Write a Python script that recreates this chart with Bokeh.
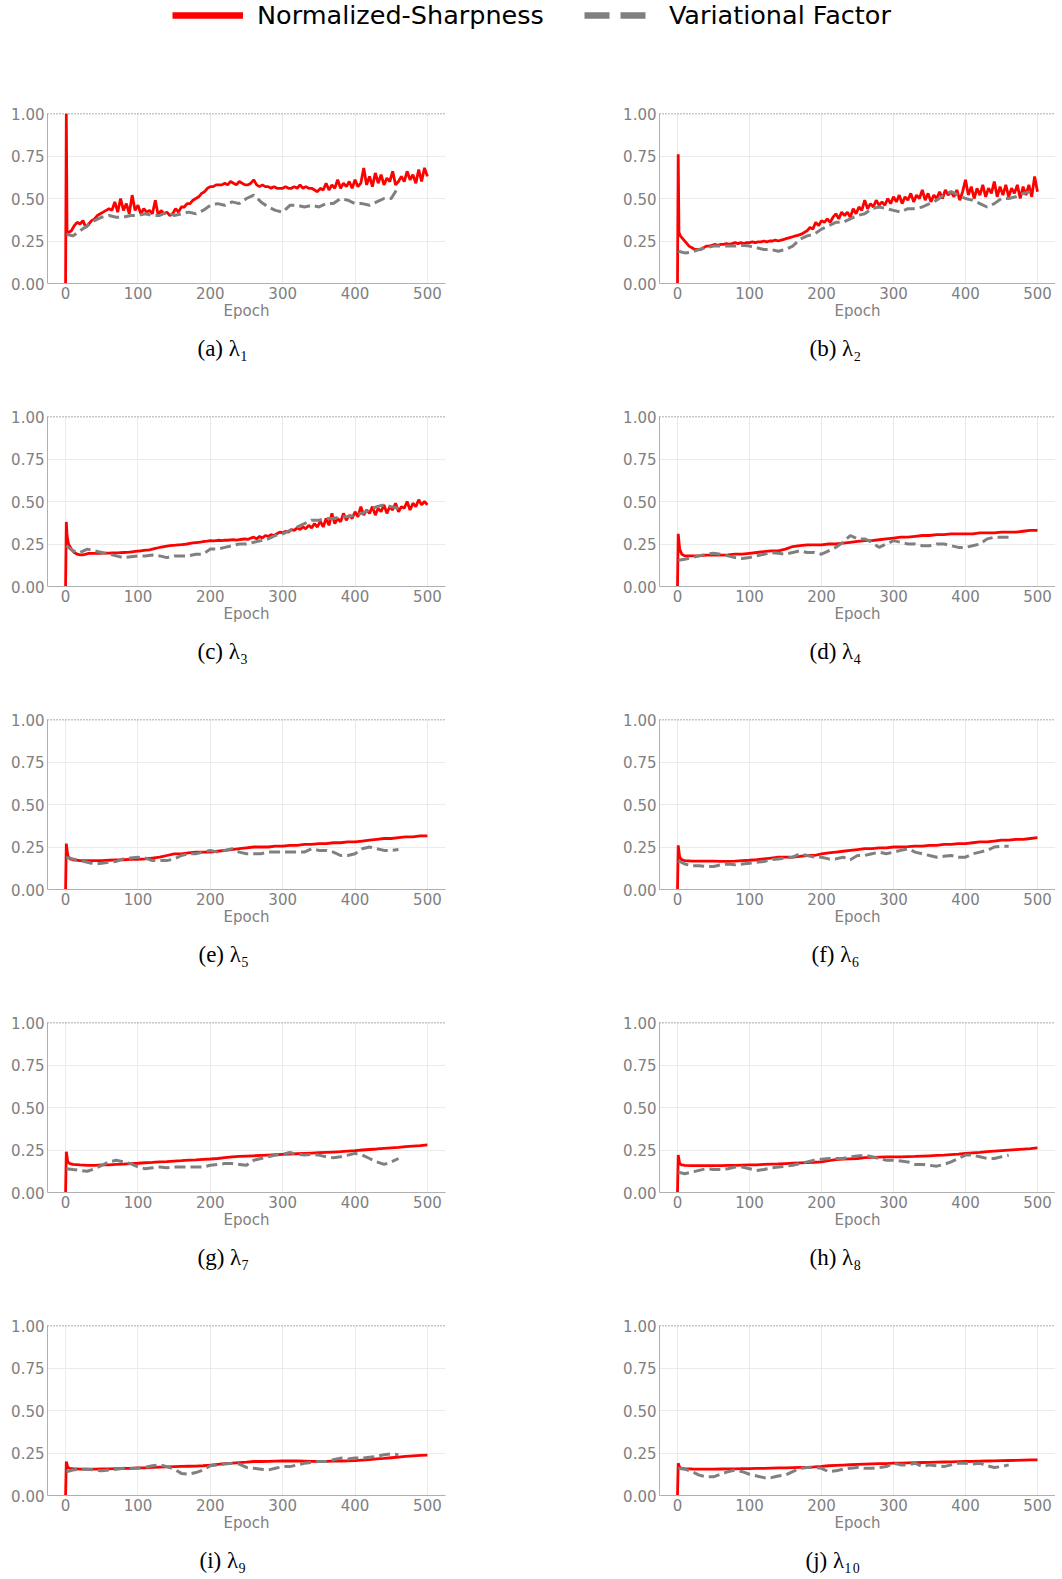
from bokeh.plotting import figure
from bokeh.layouts import column, row
from bokeh.models import (Range1d, FixedTicker, NumeralTickFormatter, Span, Title,
                          Legend, LegendItem, GlobalInlineStyleSheet)
from bokeh.embed import file_html
from bokeh.resources import INLINE

# ---------------- data ----------------
EPOCH_TICKS = [0, 100, 200, 300, 400, 500]
VALUE_TICKS = [0.0, 0.25, 0.5, 0.75, 1.0]

NOISY_EPOCHS = [0, 1, 2] + list(range(4, 501, 4))          # 128 epochs
SMOOTH_EPOCHS = [0, 1, 3, 6] + list(range(10, 501, 10))     # 54 epochs
GRAY_EPOCHS = [1] + list(range(10, 461, 10))                # 47 epochs
GRAY_EPOCHS_LONG = [1] + list(range(10, 491, 10))           # 50 epochs

CAPTIONS = ["(a) λ₁", "(b) λ₂", "(c) λ₃", "(d) λ₄", "(e) λ₅",
            "(f) λ₆", "(g) λ₇", "(h) λ₈", "(i) λ₉", "(j) λ₁₀"]
SERIES_NAMES = ["Normalized-Sharpness", "Variational Factor"]

red_a = [0.00, 1.00, 0.30,
         0.30, 0.31, 0.34, 0.36, 0.35, 0.37, 0.33, 0.35, 0.37, 0.38,
         0.40, 0.41, 0.42, 0.43, 0.44, 0.43, 0.48, 0.42, 0.50, 0.43,
         0.47, 0.41, 0.52, 0.43, 0.46, 0.41, 0.44, 0.42, 0.43, 0.41,
         0.49, 0.40, 0.43, 0.41, 0.42, 0.40, 0.41, 0.44, 0.42, 0.45,
         0.45, 0.47, 0.47, 0.49, 0.50, 0.51, 0.53, 0.54, 0.56, 0.57,
         0.57, 0.58, 0.58, 0.58, 0.59, 0.58, 0.60, 0.59, 0.58, 0.60,
         0.59, 0.58, 0.58, 0.59, 0.61, 0.58, 0.57, 0.58, 0.57, 0.57,
         0.56, 0.57, 0.56, 0.56, 0.56, 0.57, 0.56, 0.56, 0.57, 0.56,
         0.58, 0.56, 0.57, 0.56, 0.56, 0.55, 0.54, 0.56, 0.55, 0.59,
         0.55, 0.58, 0.56, 0.61, 0.56, 0.59, 0.57, 0.60, 0.56, 0.61,
         0.57, 0.59, 0.68, 0.58, 0.63, 0.57, 0.65, 0.59, 0.64, 0.58,
         0.62, 0.60, 0.66, 0.58, 0.60, 0.63, 0.60, 0.66, 0.61, 0.64,
         0.59, 0.67, 0.60, 0.68, 0.63]
gray_a = [0.29, 0.28, 0.31, 0.34, 0.37, 0.39, 0.40, 0.39, 0.39, 0.40,
          0.40, 0.41, 0.40, 0.40, 0.42, 0.40, 0.41, 0.42, 0.41, 0.43,
          0.46, 0.47, 0.46, 0.48, 0.47, 0.50, 0.52, 0.48, 0.45, 0.43,
          0.42, 0.46, 0.46, 0.45, 0.46, 0.45, 0.47, 0.47, 0.50, 0.49,
          0.47, 0.47, 0.46, 0.48, 0.50, 0.50, 0.57]

red_b = [0.00, 0.76, 0.30,
         0.28, 0.26, 0.24, 0.22, 0.21, 0.20, 0.20, 0.20, 0.21, 0.22,
         0.22, 0.225, 0.23, 0.225, 0.23, 0.23, 0.235, 0.23, 0.235, 0.24,
         0.235, 0.24, 0.235, 0.24, 0.24, 0.245, 0.24, 0.245, 0.245, 0.25,
         0.245, 0.25, 0.25, 0.255, 0.25, 0.255, 0.26, 0.265, 0.27, 0.275,
         0.28, 0.285, 0.29, 0.30, 0.31, 0.33, 0.32, 0.36, 0.34, 0.37,
         0.36, 0.38, 0.36, 0.39, 0.41, 0.38, 0.42, 0.40, 0.42, 0.39,
         0.44, 0.41, 0.45, 0.43, 0.49, 0.44, 0.47, 0.45, 0.49, 0.46,
         0.48, 0.46, 0.50, 0.47, 0.51, 0.48, 0.52, 0.47, 0.51, 0.49,
         0.53, 0.48, 0.52, 0.50, 0.55, 0.49, 0.53, 0.48, 0.52, 0.50,
         0.54, 0.50, 0.55, 0.52, 0.54, 0.51, 0.55, 0.49, 0.54, 0.61,
         0.52, 0.57, 0.50, 0.56, 0.52, 0.58, 0.51, 0.56, 0.53, 0.60,
         0.51, 0.57, 0.52, 0.58, 0.51, 0.56, 0.53, 0.58, 0.50, 0.57,
         0.52, 0.58, 0.51, 0.63, 0.54]
gray_b = [0.19, 0.18, 0.185, 0.20, 0.21, 0.22, 0.22, 0.22, 0.22, 0.225,
          0.22, 0.21, 0.20, 0.20, 0.19, 0.20, 0.22, 0.26, 0.28, 0.29,
          0.32, 0.34, 0.36, 0.36, 0.38, 0.40, 0.41, 0.44, 0.45, 0.44,
          0.43, 0.42, 0.44, 0.44, 0.45, 0.47, 0.49, 0.52, 0.54, 0.52,
          0.50, 0.49, 0.47, 0.45, 0.47, 0.50, 0.50, 0.51, 0.53, 0.54]

red_c = [0.00, 0.38, 0.30,
         0.25, 0.22, 0.20, 0.19, 0.186, 0.186, 0.19, 0.195, 0.195, 0.195,
         0.195, 0.195, 0.196, 0.196, 0.196, 0.197, 0.197, 0.198, 0.199, 0.20,
         0.201, 0.202, 0.204, 0.206, 0.208, 0.21, 0.212, 0.214, 0.216, 0.22,
         0.224, 0.228, 0.232, 0.235, 0.238, 0.24, 0.242, 0.243, 0.245, 0.246,
         0.248, 0.25, 0.253, 0.256, 0.258, 0.26, 0.262, 0.265, 0.267, 0.27,
         0.268, 0.27, 0.272, 0.27, 0.273, 0.272, 0.274, 0.275, 0.273, 0.276,
         0.278, 0.28, 0.277, 0.285, 0.29, 0.28, 0.295, 0.285, 0.30, 0.295,
         0.305, 0.30, 0.31, 0.32, 0.315, 0.325, 0.32, 0.335, 0.33, 0.345,
         0.335, 0.35, 0.34, 0.36, 0.345, 0.37, 0.35, 0.385, 0.35, 0.40,
         0.36, 0.43, 0.37, 0.40, 0.38, 0.43, 0.39, 0.42, 0.40, 0.44,
         0.41, 0.47, 0.42, 0.45, 0.43, 0.47, 0.42, 0.46, 0.44, 0.48,
         0.43, 0.47, 0.45, 0.49, 0.44, 0.47, 0.46, 0.50, 0.45, 0.49,
         0.47, 0.51, 0.48, 0.50, 0.48]
gray_c = [0.24, 0.21, 0.20, 0.22, 0.21, 0.20, 0.19, 0.18, 0.17, 0.175,
          0.18, 0.18, 0.185, 0.18, 0.17, 0.18, 0.18, 0.18, 0.19, 0.19,
          0.22, 0.22, 0.23, 0.24, 0.25, 0.25, 0.26, 0.27, 0.28, 0.30,
          0.31, 0.33, 0.35, 0.37, 0.39, 0.39, 0.40, 0.40, 0.41, 0.41,
          0.42, 0.43, 0.45, 0.47, 0.48, 0.47, 0.46]

red_d = [0.00, 0.31, 0.22, 0.19,
         0.18, 0.18, 0.18, 0.185, 0.185, 0.185, 0.186, 0.19, 0.19, 0.195,
         0.20, 0.205, 0.21, 0.21, 0.22, 0.235, 0.24, 0.245, 0.245, 0.245,
         0.25, 0.25, 0.255, 0.26, 0.265, 0.27, 0.27, 0.275, 0.28, 0.285,
         0.29, 0.29, 0.295, 0.30, 0.30, 0.305, 0.305, 0.31, 0.31, 0.31,
         0.31, 0.315, 0.315, 0.315, 0.32, 0.32, 0.32, 0.325, 0.33, 0.33]
gray_d = [0.155, 0.16, 0.17, 0.18, 0.19, 0.195, 0.19, 0.18, 0.17, 0.165,
          0.17, 0.18, 0.19, 0.20, 0.195, 0.19, 0.20, 0.21, 0.20, 0.20,
          0.19, 0.21, 0.23, 0.26, 0.30, 0.28, 0.28, 0.26, 0.23, 0.25,
          0.27, 0.26, 0.25, 0.25, 0.24, 0.24, 0.25, 0.25, 0.24, 0.23,
          0.23, 0.24, 0.25, 0.28, 0.29, 0.29, 0.29]

red_e = [0.00, 0.27, 0.20, 0.18,
         0.175, 0.17, 0.17, 0.17, 0.17, 0.172, 0.174, 0.175, 0.177, 0.178,
         0.18, 0.185, 0.19, 0.20, 0.21, 0.21, 0.215, 0.22, 0.22, 0.22,
         0.225, 0.23, 0.235, 0.24, 0.245, 0.25, 0.25, 0.25, 0.255, 0.255,
         0.26, 0.26, 0.265, 0.265, 0.27, 0.27, 0.275, 0.275, 0.28, 0.28,
         0.285, 0.29, 0.295, 0.30, 0.30, 0.305, 0.31, 0.31, 0.315, 0.315]
gray_e = [0.19, 0.18, 0.17, 0.16, 0.15, 0.155, 0.16, 0.165, 0.18, 0.185,
          0.19, 0.185, 0.17, 0.17, 0.17, 0.18, 0.20, 0.21, 0.21, 0.22,
          0.23, 0.22, 0.23, 0.24, 0.22, 0.21, 0.21, 0.21, 0.22, 0.22,
          0.22, 0.22, 0.22, 0.22, 0.24, 0.23, 0.23, 0.22, 0.20, 0.20,
          0.21, 0.24, 0.25, 0.24, 0.23, 0.23, 0.235]

red_f = [0.00, 0.26, 0.19, 0.175,
         0.17, 0.167, 0.167, 0.167, 0.167, 0.166, 0.166, 0.167, 0.17, 0.172,
         0.175, 0.18, 0.185, 0.19, 0.19, 0.19, 0.195, 0.20, 0.20, 0.21,
         0.215, 0.22, 0.225, 0.23, 0.235, 0.24, 0.24, 0.245, 0.245, 0.25,
         0.25, 0.252, 0.255, 0.255, 0.26, 0.26, 0.265, 0.265, 0.27, 0.27,
         0.275, 0.28, 0.28, 0.285, 0.29, 0.29, 0.295, 0.295, 0.30, 0.305]
gray_f = [0.17, 0.15, 0.14, 0.14, 0.135, 0.135, 0.145, 0.15, 0.145, 0.15,
          0.155, 0.16, 0.165, 0.175, 0.18, 0.185, 0.19, 0.21, 0.20, 0.19,
          0.19, 0.18, 0.18, 0.19, 0.175, 0.20, 0.20, 0.21, 0.22, 0.21,
          0.22, 0.23, 0.24, 0.22, 0.21, 0.20, 0.19, 0.195, 0.20, 0.19,
          0.19, 0.21, 0.22, 0.23, 0.25, 0.255, 0.255]

red_g = [0.00, 0.24, 0.18, 0.17,
         0.165, 0.162, 0.16, 0.16, 0.162, 0.163, 0.165, 0.167, 0.17, 0.172,
         0.175, 0.177, 0.18, 0.182, 0.185, 0.187, 0.19, 0.192, 0.195, 0.197,
         0.20, 0.205, 0.21, 0.212, 0.214, 0.216, 0.218, 0.22, 0.222, 0.224,
         0.226, 0.228, 0.23, 0.232, 0.234, 0.236, 0.238, 0.24, 0.243, 0.246,
         0.25, 0.253, 0.256, 0.26, 0.263, 0.266, 0.27, 0.273, 0.276, 0.28]
gray_g = [0.14, 0.135, 0.13, 0.125, 0.14, 0.16, 0.18, 0.19, 0.18, 0.17,
          0.15, 0.14, 0.145, 0.15, 0.145, 0.15, 0.15, 0.15, 0.15, 0.15,
          0.16, 0.165, 0.17, 0.17, 0.165, 0.16, 0.19, 0.20, 0.21, 0.22,
          0.225, 0.235, 0.225, 0.22, 0.225, 0.22, 0.21, 0.205, 0.21, 0.22,
          0.23, 0.22, 0.20, 0.18, 0.165, 0.18, 0.20]

red_h = [0.00, 0.22, 0.17, 0.162,
         0.16, 0.158, 0.158, 0.158, 0.158, 0.158, 0.159, 0.16, 0.161, 0.162,
         0.163, 0.165, 0.167, 0.168, 0.17, 0.172, 0.174, 0.176, 0.178, 0.18,
         0.188, 0.193, 0.196, 0.198, 0.20, 0.205, 0.207, 0.208, 0.209, 0.21,
         0.21, 0.211, 0.212, 0.214, 0.216, 0.218, 0.22, 0.223, 0.226, 0.23,
         0.233, 0.236, 0.24, 0.243, 0.246, 0.249, 0.252, 0.255, 0.258, 0.262]
gray_h = [0.12, 0.11, 0.12, 0.13, 0.14, 0.135, 0.135, 0.14, 0.15, 0.15,
          0.14, 0.13, 0.135, 0.145, 0.15, 0.155, 0.16, 0.17, 0.18, 0.19,
          0.195, 0.20, 0.20, 0.20, 0.21, 0.215, 0.22, 0.21, 0.20, 0.19,
          0.19, 0.185, 0.18, 0.165, 0.165, 0.16, 0.155, 0.165, 0.18, 0.20,
          0.22, 0.22, 0.21, 0.20, 0.20, 0.21, 0.22]

red_i = [0.00, 0.20, 0.165, 0.16,
         0.158, 0.155, 0.155, 0.155, 0.156, 0.157, 0.158, 0.159, 0.16, 0.162,
         0.163, 0.165, 0.167, 0.168, 0.17, 0.171, 0.172, 0.173, 0.175, 0.178,
         0.183, 0.188, 0.19, 0.193, 0.196, 0.20, 0.20, 0.201, 0.202, 0.203,
         0.204, 0.203, 0.202, 0.201, 0.20, 0.201, 0.202, 0.203, 0.204, 0.205,
         0.208, 0.211, 0.215, 0.218, 0.222, 0.226, 0.23, 0.233, 0.236, 0.238]
gray_i = [0.14, 0.15, 0.155, 0.155, 0.15, 0.145, 0.15, 0.155, 0.16, 0.16,
          0.16, 0.165, 0.175, 0.18, 0.17, 0.155, 0.13, 0.125, 0.135, 0.15,
          0.175, 0.18, 0.185, 0.19, 0.185, 0.165, 0.16, 0.155, 0.15, 0.16,
          0.17, 0.17, 0.18, 0.19, 0.195, 0.20, 0.20, 0.21, 0.22, 0.215,
          0.22, 0.22, 0.225, 0.23, 0.24, 0.245, 0.24]

red_j = [0.00, 0.19, 0.165, 0.16,
         0.158, 0.156, 0.155, 0.155, 0.155, 0.156, 0.157, 0.157, 0.158, 0.158,
         0.159, 0.16, 0.161, 0.162, 0.163, 0.164, 0.165, 0.166, 0.168, 0.171,
         0.175, 0.177, 0.179, 0.181, 0.183, 0.185, 0.186, 0.187, 0.188, 0.19,
         0.191, 0.192, 0.193, 0.194, 0.195, 0.196, 0.197, 0.198, 0.199, 0.20,
         0.201, 0.202, 0.203, 0.204, 0.205, 0.206, 0.207, 0.208, 0.209, 0.21]
gray_j = [0.16, 0.155, 0.14, 0.12, 0.11, 0.11, 0.125, 0.14, 0.15, 0.14,
          0.125, 0.115, 0.105, 0.105, 0.115, 0.12, 0.14, 0.16, 0.165, 0.165,
          0.16, 0.14, 0.145, 0.155, 0.16, 0.165, 0.16, 0.16, 0.165, 0.17,
          0.19, 0.18, 0.18, 0.19, 0.17, 0.18, 0.175, 0.17, 0.18, 0.19,
          0.19, 0.185, 0.19, 0.175, 0.165, 0.17, 0.18]

PANELS = [
    (NOISY_EPOCHS, red_a, GRAY_EPOCHS, gray_a),
    (NOISY_EPOCHS, red_b, GRAY_EPOCHS_LONG, gray_b),
    (NOISY_EPOCHS, red_c, GRAY_EPOCHS, gray_c),
    (SMOOTH_EPOCHS, red_d, GRAY_EPOCHS, gray_d),
    (SMOOTH_EPOCHS, red_e, GRAY_EPOCHS, gray_e),
    (SMOOTH_EPOCHS, red_f, GRAY_EPOCHS, gray_f),
    (SMOOTH_EPOCHS, red_g, GRAY_EPOCHS, gray_g),
    (SMOOTH_EPOCHS, red_h, GRAY_EPOCHS, gray_h),
    (SMOOTH_EPOCHS, red_i, GRAY_EPOCHS, gray_i),
    (SMOOTH_EPOCHS, red_j, GRAY_EPOCHS, gray_j),
]

# ---------------- styling ----------------
RED = "#ff0000"
GRAY = "#808080"
TICK_COLOR = "#808080"
SPINE_COLOR = "#b0b0b0"
GRID_COLOR = "#ebebeb"
SANS = "DejaVu Sans"
SERIF = "Liberation Serif"
CAPTION_OFFSETS = [150, 150, 150, 150, 151, 152, 150, 150, 152, 146]


def make_panel(idx, rx, ry, gx, gy):
    right_col = idx % 2 == 1
    last_row = idx >= 8
    p = figure(frame_width=396 if right_col else 398, frame_height=170,
               x_range=Range1d(-25, 525), y_range=Range1d(0, 1),
               output_backend="svg", toolbar_location=None)
    p.min_border_left = 39 if right_col else 47
    p.min_border_right = 0 if right_col else 175
    p.min_border_top = 33
    p.min_border_bottom = 76 if last_row else 100
    p.outline_line_color = None
    p.background_fill_color = "white"
    p.border_fill_color = "white"

    p.xaxis.ticker = FixedTicker(ticks=EPOCH_TICKS)
    p.yaxis.ticker = FixedTicker(ticks=VALUE_TICKS)
    p.yaxis.formatter = NumeralTickFormatter(format="0.00")
    for ax in (p.xaxis, p.yaxis):
        ax.axis_line_color = SPINE_COLOR
        ax.axis_line_width = 1
        ax.major_tick_line_color = None
        ax.minor_tick_line_color = None
        ax.major_tick_out = 0
        ax.major_tick_in = 0
        ax.major_label_text_font = SANS
        ax.major_label_text_font_size = "15px"
        ax.major_label_text_color = TICK_COLOR
    p.xaxis.major_label_standoff = 3
    p.yaxis.major_label_standoff = 3
    p.xaxis.axis_label = "Epoch"
    p.xaxis.axis_label_text_font = SANS
    p.xaxis.axis_label_text_font_size = "15px"
    p.xaxis.axis_label_text_font_style = "normal"
    p.xaxis.axis_label_text_color = TICK_COLOR
    p.xaxis.axis_label_standoff = 0

    p.xgrid.grid_line_color = GRID_COLOR
    p.ygrid.grid_line_color = GRID_COLOR
    p.xgrid.grid_line_width = 1
    p.ygrid.grid_line_width = 1

    p.add_layout(Span(location=1.0, dimension="width", line_color="#222222",
                      line_width=1.3, line_dash="1 2"))

    p.line(rx, ry, line_color=RED, line_width=2.8)
    p.line(gx, gy, line_color=GRAY, line_width=3, line_dash="11 5")

    cap = Title(text=CAPTIONS[idx], align="left", offset=CAPTION_OFFSETS[idx],
                standoff=23, text_font=SERIF, text_font_size="23px",
                text_font_style="normal", text_color="#000000")
    p.add_layout(cap, "below")
    return p


panels = [make_panel(i, *PANELS[i]) for i in range(10)]

# ---------------- legend strip ----------------
lf = figure(width=1055, height=80, x_range=Range1d(0, 1055), y_range=Range1d(0, 80),
            x_axis_type=None, y_axis_type=None, output_backend="svg",
            toolbar_location=None, min_border=0)
lf.outline_line_color = None
r_red = lf.line(x=[-50, -40], y=[-50, -50], line_color=RED, line_width=6.7)
r_gray = lf.line(x=[-50, -40], y=[-50, -50], line_color=GRAY, line_width=6.7,
                 line_dash="25 11")
legend = Legend(items=[LegendItem(label=SERIES_NAMES[0], renderers=[r_red]),
                       LegendItem(label=SERIES_NAMES[1], renderers=[r_gray])],
                orientation="horizontal", location=(172, 50),
                glyph_width=71, glyph_height=24, label_height=24,
                label_standoff=14, spacing=40, padding=0, margin=0,
                border_line_color=None, background_fill_alpha=0,
                label_text_font=SANS, label_text_font_size="25.5px",
                label_text_color="#000000")
lf.add_layout(legend)

layout = column(lf,
                row(panels[0], panels[1]),
                row(panels[2], panels[3]),
                row(panels[4], panels[5]),
                row(panels[6], panels[7]),
                row(panels[8], panels[9]))
layout.stylesheets = [GlobalInlineStyleSheet(css="html, body { overflow: hidden; }")]

open("out.html", "w").write(file_html(layout, INLINE))
